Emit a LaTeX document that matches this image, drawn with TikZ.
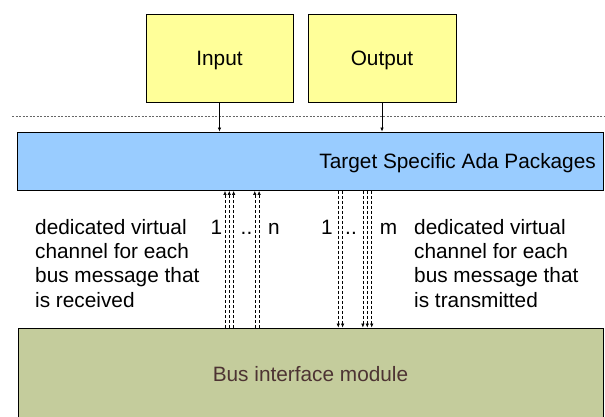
\documentclass[tikz,border=0pt]{standalone}
\usepackage{fontspec}
\setmainfont{Liberation Sans}
\usetikzlibrary{arrows.meta}
\definecolor{boxyellow}{HTML}{FFFF99}
\definecolor{boxblue}{HTML}{99CCFF}
\definecolor{boxgreen}{HTML}{C4CC9C}
\definecolor{busbrown}{HTML}{4D3333}
\tikzset{
  box/.style={draw=black, line width=0.9pt, inner sep=0pt, rectangle},
  txt/.style={font=\fontsize{20.8}{24.3}\selectfont, inner sep=0pt},
  arr/.style={draw=black, line width=0.6pt, -{Latex[length=4pt,width=3.5pt]}},
  chan/.style={draw=black, line width=0.6pt, dash pattern=on 3pt off 2pt, -{Latex[length=4pt,width=3.5pt]}},
  sep/.style={draw=black!60, line width=0.8pt, dash pattern=on 2pt off 1.5pt},
}
\begin{document}
\begin{tikzpicture}[x=1pt,y=-1pt]
\useasboundingbox (0,0) rectangle (605,417);
% top boxes
\node[box, fill=boxyellow, minimum width=147pt, minimum height=88pt, txt, text height=15pt, text depth=0pt] (input) at (219.5,58) {Input};
\node[box, fill=boxyellow, minimum width=148pt, minimum height=88pt, txt, text height=15pt, text depth=0pt] (output) at (382,58) {Output};
% separator
\coordinate (dl) at (12,116.7);
\coordinate (dr) at (605,116.7);
\draw[sep] (dl) -- (dr);
% target specific box
\node[box, fill=boxblue, minimum width=586pt, minimum height=58.5pt] (tsap) at (310,161.25) {};
\node[txt, anchor=base east] (tsaptext) at (596,168.5) {Target Specific Ada Packages};
% bus interface module
\node[box, fill=boxgreen, minimum width=585pt, minimum height=110pt] (bim) at (310.5,383) {};
\node[txt, text=busbrown] (bimtext) at (310.5,374.5) {Bus interface module};
% input/output arrows
\draw[arr] (input.south) -- (input.south |- tsap.north);
\draw[arr] (output.south) -- (output.south |- tsap.north);
% channel coordinates
\coordinate (u1) at (225,0);
\coordinate (u2) at (229.3,0);
\coordinate (u3) at (233.6,0);
\coordinate (u4) at (254.8,0);
\coordinate (u5) at (259.1,0);
\coordinate (d1) at (338.3,0);
\coordinate (d2) at (342.6,0);
\coordinate (d3) at (362.9,0);
\coordinate (d4) at (367.3,0);
\coordinate (d5) at (371.7,0);
\foreach \c in {u1,u2,u3,u4,u5}
  \draw[chan] (bim.north -| \c) -- (tsap.south -| \c);
\foreach \c in {d1,d2,d3,d4,d5}
  \draw[chan] (tsap.south -| \c) -- (bim.north -| \c);
% channel labels
\node[txt, anchor=base] (l1) at (216.5,234) {1};
\node[txt, anchor=base] (ldots) at (246.5,234) {..};
\node[txt, anchor=base] (ln) at (274,234) {n};
\node[txt, anchor=base] (r1) at (327,234) {1};
\node[txt, anchor=base] (rdots) at (351,234) {..};
\node[txt, anchor=base] (rm) at (388.5,234) {m};
% descriptions
\node[txt, anchor=north west, align=left] (recv) at (35,219) {dedicated virtual\\channel for each\\bus message that\\is received};
\node[txt, anchor=north west, align=left] (trans) at (414,219) {dedicated virtual\\channel for each\\bus message that\\is transmitted};
\end{tikzpicture}
\end{document}
